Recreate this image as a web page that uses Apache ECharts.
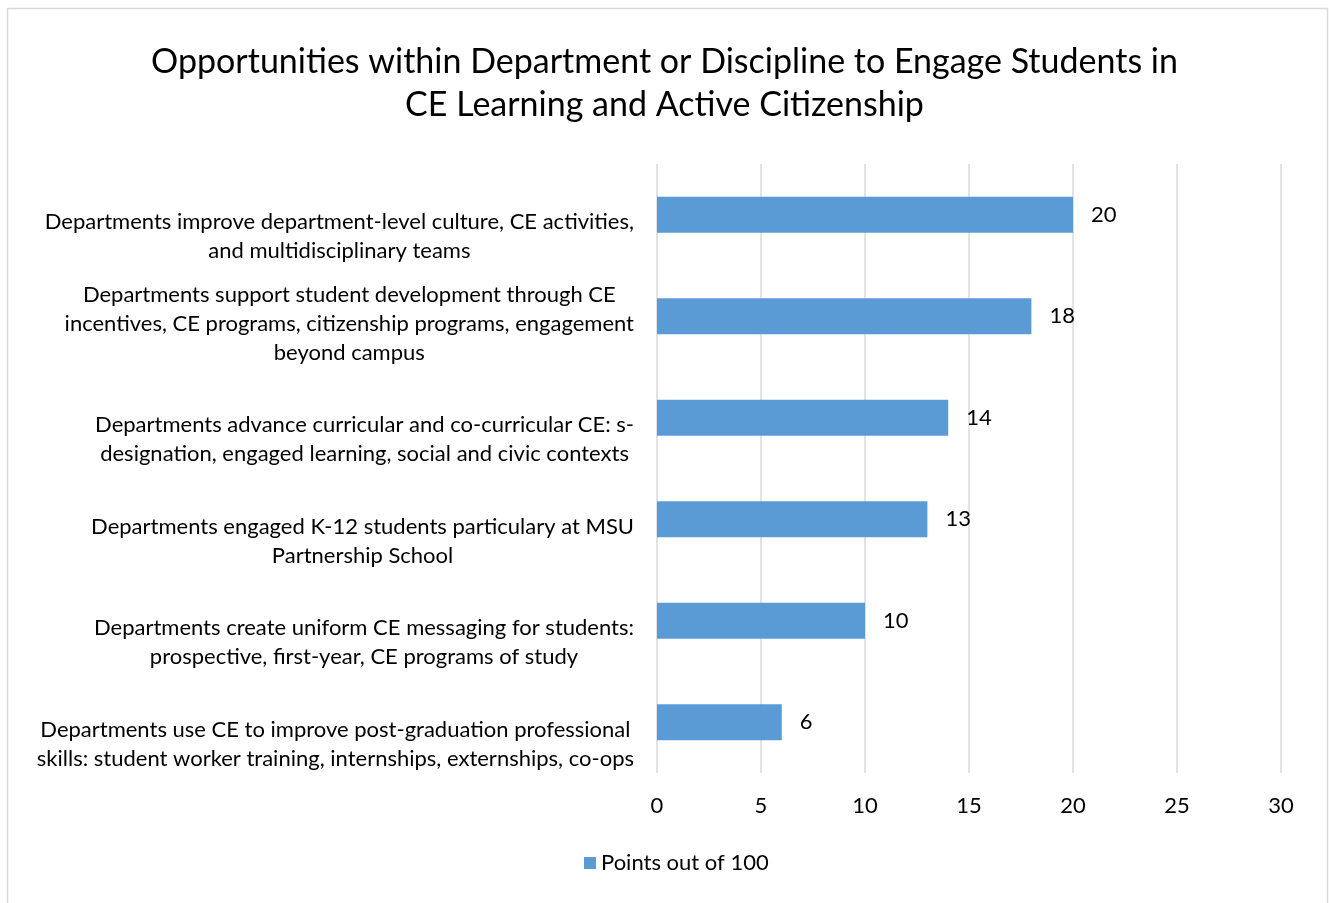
<!DOCTYPE html>
<html><head><meta charset="utf-8">
<script src="https://cdn.jsdelivr.net/npm/echarts@6/dist/echarts.min.js"></script>
<style>html,body{margin:0;padding:0;background:#fff}#c{width:1329px;height:903px}</style>
</head><body><div id="c"></div>
<script>
const titleText = "Opportunities within Department or Discipline to Engage Students in\nCE Learning and Active Citizenship";
const categories = [
  "Departments improve department-level culture, CE activities,\nand multidisciplinary teams",
  "Departments support student development through CE\nincentives, CE programs, citizenship programs, engagement\nbeyond campus",
  "Departments advance curricular and co-curricular CE: s-\ndesignation, engaged learning, social and civic contexts",
  "Departments engaged K-12 students particulary at MSU\nPartnership School",
  "Departments create uniform CE messaging for students:\nprospective, first-year, CE programs of study",
  "Departments use CE to improve post-graduation professional\nskills: student worker training, internships, externships, co-ops"
];
const seriesName = "Points out of 100";
const values = [20, 18, 14, 13, 10, 6];
const xMin = 0, xMax = 30, xInterval = 5;

const FONT = "Lato, 'Open Sans', sans-serif";
const LABEL_SIZE = 22;
const chart = echarts.init(document.getElementById('c'));
chart.setOption({
  animation: false,
  backgroundColor: '#fff',
  textStyle: { fontFamily: FONT },
  title: {
    text: titleText, left: 'center', top: 36,
    textStyle: { fontFamily: FONT, fontSize: 34, fontWeight: 'normal', color: '#000', lineHeight: 43 }
  },
  legend: {
    data: [seriesName], top: 847, left: 579, icon: 'rect', itemWidth: 12, itemHeight: 12, itemGap: 6,
    textStyle: { fontFamily: FONT, fontSize: LABEL_SIZE, color: '#000' }
  },
  grid: { left: 657, top: 164, width: 624, height: 609, containLabel: false },
  xAxis: {
    type: 'value', min: xMin, max: xMax, interval: xInterval,
    axisLine: { show: false }, axisTick: { show: false },
    axisLabel: { fontFamily: FONT, fontSize: LABEL_SIZE, color: '#000', margin: 22 },
    splitLine: { show: true, lineStyle: { color: '#D9D9D9', width: 1.5 } }
  },
  yAxis: {
    type: 'category', data: categories, inverse: true,
    axisLine: { show: false }, axisTick: { show: false },
    axisLabel: { show: false }
  },
  series: [{
    name: seriesName, type: 'bar', data: values, barWidth: 36,
    itemStyle: { color: '#5B9BD5' },
    label: { show: true, position: 'right', distance: 18, fontFamily: FONT, fontSize: LABEL_SIZE, color: '#000' }
  }]
});

// Category labels: lines centred within the block, block right-aligned, bottom-aligned to band bottom
const ctx = document.createElement('canvas').getContext('2d');
ctx.font = LABEL_SIZE + "px Lato";
const rightEdge = 634;
const band = Math.abs(chart.convertToPixel({ yAxisIndex: 0 }, 1) - chart.convertToPixel({ yAxisIndex: 0 }, 0));
const graphics = [{
  type: 'rect', shape: { x: 7.5, y: 8.5, width: 1320, height: 900 },
  style: { fill: 'none', stroke: '#D9D9D9', lineWidth: 1.5 }, silent: true
}];
categories.forEach((cat, i) => {
  const lines = cat.split('\n');
  const w = Math.max(...lines.map(l => ctx.measureText(l).width));
  const cy = chart.convertToPixel({ yAxisIndex: 0 }, i);
  graphics.push({
    type: 'text', x: rightEdge - w / 2, y: cy + band / 2, silent: true,
    style: {
      text: cat, fill: '#000', font: LABEL_SIZE + "px Lato, 'Open Sans', sans-serif",
      lineHeight: 29, align: 'center', verticalAlign: 'bottom'
    }
  });
});
chart.setOption({ graphic: graphics });
</script></body></html>
